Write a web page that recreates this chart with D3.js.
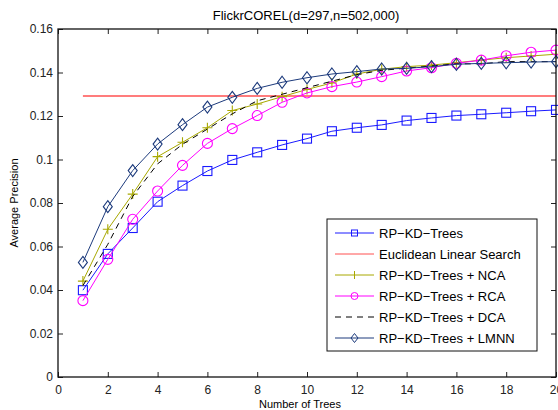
<!DOCTYPE html>
<html>
<head>
<meta charset="utf-8">
<script src="https://cdn.jsdelivr.net/npm/d3@7"></script>
<style>
  body { margin: 0; background: #fff; }
  text { font-family: "Liberation Sans", Arial, sans-serif; }
</style>
</head>
<body>
<div id="content"></div>
<script>
// data
var trees = d3.range(1, 21);
var rpkd = [0.0399,0.0566,0.0685,0.0806,0.0880,0.0947,0.0998,0.1033,0.1067,0.1096,0.1130,0.1146,0.1159,0.1179,0.1191,0.1202,0.1208,0.1215,0.1222,0.1228];
var euclid = 0.1292;
var nca = [0.0441,0.0679,0.0841,0.1013,0.1079,0.1146,0.1225,0.1255,0.1289,0.1322,0.1352,0.1393,0.1415,0.1427,0.1434,0.1445,0.1457,0.1468,0.1476,0.1484];
var rca = [0.0351,0.0541,0.0725,0.0855,0.0973,0.1074,0.1142,0.1202,0.1263,0.1306,0.1335,0.1356,0.1381,0.1407,0.1422,0.1442,0.1457,0.1477,0.1493,0.1503];
var dca = [0.042,0.061,0.083,0.098,0.107,0.114,0.121,0.127,0.130,0.133,0.136,0.139,0.141,0.142,0.143,0.144,0.144,0.145,0.145,0.145];
var lmnn = [0.0527,0.0783,0.0949,0.1071,0.1160,0.1241,0.1286,0.1327,0.1355,0.1376,0.1393,0.1404,0.1416,0.1419,0.1427,0.1438,0.1442,0.1445,0.1448,0.1450];
var xTicks = [0,2,4,6,8,10,12,14,16,18,20];
var yTicks = [0,0.02,0.04,0.06,0.08,0.1,0.12,0.14,0.16];

var W = 558, H = 410;
var pL = 58, pR = 556, pT = 29, pB = 377;

var svg = d3.select("#content").append("svg")
    .attr("width", W)
    .attr("height", H);

var x = d3.scaleLinear().domain([0, 20]).range([pL, pR]);
var y = d3.scaleLinear().domain([0, 0.16]).range([pB, pT]);

//Title
svg.append("text")
    .attr("x", 306)
    .attr("y", 19.5)
    .attr("text-anchor", "middle")
    .style("font-size", "13px")
    .text("FlickrCOREL(d=297,n=502,000)");

//Axes - ticks inside, on all four sides
var tl = 5;
svg.append("g").attr("transform", "translate(0," + pB + ")")
    .call(d3.axisBottom(x).tickValues(xTicks).tickSizeInner(-tl).tickSizeOuter(0).tickPadding(8).tickFormat(d3.format("d")));
svg.append("g").attr("transform", "translate(0," + pT + ")")
    .call(d3.axisTop(x).tickValues(xTicks).tickSizeInner(-tl).tickSizeOuter(0).tickFormat(""));
svg.append("g").attr("transform", "translate(" + pL + ",0)")
    .call(d3.axisLeft(y).tickValues(yTicks).tickSizeInner(-tl).tickSizeOuter(0).tickPadding(5).tickFormat(function(d){ return d === 0 ? "0" : String(+d.toFixed(2)); }));
svg.append("g").attr("transform", "translate(" + pR + ",0)")
    .call(d3.axisRight(y).tickValues(yTicks).tickSizeInner(-tl).tickSizeOuter(0).tickFormat(""));
svg.selectAll(".domain").remove();
svg.selectAll(".tick text").style("font-size", "12px").style("font-family", "Liberation Sans, Arial, sans-serif").attr("fill", "#222");
svg.selectAll(".tick line").attr("stroke", "#222");

//Axis labels
svg.append("text")
    .attr("x", 300)
    .attr("y", 407.5)
    .attr("text-anchor", "middle")
    .style("font-size", "11px")
    .text("Number of Trees");
svg.append("text")
    .attr("transform", "translate(17.5," + ((pT + pB) / 2) + ") rotate(-90)")
    .attr("text-anchor", "middle")
    .style("font-size", "11px")
    .text("Average Precision");

var plot = svg.append("g");

//Series
var series = [
  {name: "RP\u2212KD\u2212Trees", vals: rpkd, color: "#1a1aff", marker: "square"},
  {name: "RP\u2212KD\u2212Trees + NCA", vals: nca, color: "#a8a800", marker: "plus"},
  {name: "RP\u2212KD\u2212Trees + RCA", vals: rca, color: "#ff00ff", marker: "circle"},
  {name: "RP\u2212KD\u2212Trees + DCA", vals: dca, color: "#000", marker: "none", dash: "6,5"},
  {name: "RP\u2212KD\u2212Trees + LMNN", vals: lmnn, color: "#1c3a7c", marker: "diamond"}
];

var line = d3.line().x(function(d){ return x(d[0]); }).y(function(d){ return y(d[1]); });

//Euclidean linear search
plot.append("line")
    .attr("x1", x(1)).attr("x2", x(20))
    .attr("y1", y(euclid)).attr("y2", y(euclid))
    .attr("stroke", "#ff5050").attr("stroke-width", 1.3);

function drawMarker(g, type, cx, cy, color) {
  if (type === "square") {
    g.append("rect").attr("x", cx - 4.5).attr("y", cy - 4.5).attr("width", 9).attr("height", 9)
      .attr("fill", "none").attr("stroke", color).attr("stroke-width", 1.1);
  } else if (type === "circle") {
    g.append("circle").attr("cx", cx).attr("cy", cy).attr("r", 5)
      .attr("fill", "none").attr("stroke", color).attr("stroke-width", 1.1);
  } else if (type === "diamond") {
    g.append("path").attr("d", "M" + cx + "," + (cy - 6) + "L" + (cx + 4.5) + "," + cy + "L" + cx + "," + (cy + 6) + "L" + (cx - 4.5) + "," + cy + "Z")
      .attr("fill", "none").attr("stroke", color).attr("stroke-width", 1.1);
  } else if (type === "plus") {
    g.append("path").attr("d", "M" + (cx - 5) + "," + cy + "H" + (cx + 5) + "M" + cx + "," + (cy - 5) + "V" + (cy + 5))
      .attr("fill", "none").attr("stroke", color).attr("stroke-width", 1.1);
  }
}

series.forEach(function(s) {
  var pts = trees.map(function(t, i){ return [t, s.vals[i]]; });
  plot.append("path")
      .attr("d", line(pts))
      .attr("fill", "none")
      .attr("stroke", s.color)
      .attr("stroke-width", 1)
      .attr("stroke-dasharray", s.dash || null);
  var mg = plot.append("g");
  pts.forEach(function(p){ drawMarker(mg, s.marker, x(p[0]), y(p[1]), s.color); });
});

//Box
svg.append("rect")
    .attr("x", pL).attr("y", pT)
    .attr("width", pR - pL).attr("height", pB - pT)
    .attr("fill", "none").attr("stroke", "#111").attr("stroke-width", 1.3);

//Legend
var legendItems = [
  {name: "RP\u2212KD\u2212Trees", color: "#1a1aff", marker: "square"},
  {name: "Euclidean Linear Search", color: "#ff5050", marker: "none"},
  {name: "RP\u2212KD\u2212Trees + NCA", color: "#a8a800", marker: "plus"},
  {name: "RP\u2212KD\u2212Trees + RCA", color: "#ff00ff", marker: "circle"},
  {name: "RP\u2212KD\u2212Trees + DCA", color: "#000", marker: "none", dash: "6,5"},
  {name: "RP\u2212KD\u2212Trees + LMNN", color: "#1c3a7c", marker: "diamond"}
];
var lg = svg.append("g");
lg.append("rect")
    .attr("x", 327).attr("y", 219)
    .attr("width", 210).attr("height", 132)
    .attr("fill", "#fff").attr("stroke", "#111").attr("stroke-width", 1);
legendItems.forEach(function(d, i) {
  var ly = 233 + i * 21;
  lg.append("line").attr("x1", 335).attr("x2", 374).attr("y1", ly).attr("y2", ly)
    .attr("stroke", d.color).attr("stroke-width", 1).attr("stroke-dasharray", d.dash || null);
  var mk = lg.append("g");
  if (d.marker === "square") {
    mk.append("rect").attr("x", 351.5).attr("y", ly - 3).attr("width", 6).attr("height", 6)
      .attr("fill", "none").attr("stroke", d.color);
  } else if (d.marker === "circle") {
    mk.append("circle").attr("cx", 354.5).attr("cy", ly).attr("r", 3.5).attr("fill", "none").attr("stroke", d.color);
  } else if (d.marker === "plus") {
    mk.append("path").attr("d", "M354.5," + (ly - 4) + "V" + (ly + 4)).attr("stroke", d.color);
  } else if (d.marker === "diamond") {
    mk.append("path").attr("d", "M354.5," + (ly - 4.5) + "L358," + ly + "L354.5," + (ly + 4.5) + "L351," + ly + "Z")
      .attr("fill", "none").attr("stroke", d.color);
  }
  lg.append("text").attr("x", 379).attr("y", ly + 4.5)
    .style("font-size", "13px")
    .text(d.name);
});
</script>
</body>
</html>
